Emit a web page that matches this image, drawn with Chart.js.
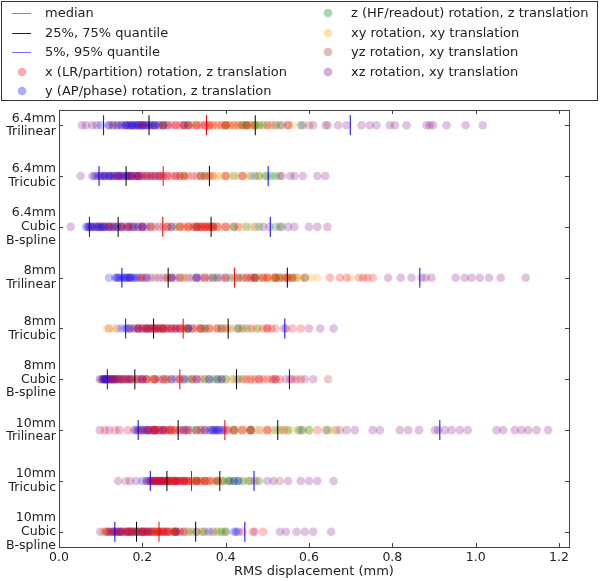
<!DOCTYPE html>
<html>
<head>
<meta charset="utf-8">
<script src="https://cdn.jsdelivr.net/npm/chart.js@4.4.1/dist/chart.umd.min.js"></script>
<style>
  html, body { margin: 0; padding: 0; background: #fff; }
  #wrap { width: 600px; height: 581px; }
</style>
</head>
<body>
<div id="wrap"><canvas id="rmsChart"></canvas></div>
<script>

// ======================================
// DATA
// ======================================

const rowLabels = [
    ["6.4mm", "Trilinear"],
    ["6.4mm", "Tricubic"],
    ["6.4mm", "Cubic", "B-spline"],
    ["8mm", "Trilinear"],
    ["8mm", "Tricubic"],
    ["8mm", "Cubic", "B-spline"],
    ["10mm", "Trilinear"],
    ["10mm", "Tricubic"],
    ["10mm", "Cubic", "B-spline"]
];

const xTicks = [0, 0.2, 0.4, 0.6, 0.8, 1.0, 1.2];

// quantile markers, one value per row
const q05 = [0.107, 0.096, 0.073, 0.151, 0.160, 0.116, 0.190, 0.219, 0.134];
const q25 = [0.216, 0.161, 0.142, 0.262, 0.227, 0.182, 0.286, 0.259, 0.186];
const q50 = [0.354, 0.250, 0.249, 0.421, 0.298, 0.290, 0.398, 0.318, 0.240];
const q75 = [0.471, 0.361, 0.365, 0.548, 0.406, 0.426, 0.525, 0.386, 0.328];
const q95 = [0.699, 0.502, 0.507, 0.866, 0.542, 0.553, 0.914, 0.468, 0.446];

// x (LR/partition) rotation, z translation
const xRot = [
    [0.20, 0.25, 0.26, 0.27, 0.28, 0.29, 0.30, 0.31, 0.32, 0.33, 0.34, 0.35, 0.36, 0.37, 0.38, 0.39, 0.40, 0.41, 0.43, 0.45, 0.46, 0.50, 0.55],
    [0.14, 0.17, 0.18, 0.19, 0.20, 0.21, 0.22, 0.23, 0.24, 0.25, 0.26, 0.27, 0.28, 0.29, 0.30, 0.31, 0.33, 0.35, 0.36, 0.40, 0.44],
    [0.12, 0.15, 0.17, 0.20, 0.22, 0.25, 0.27, 0.29, 0.30, 0.31, 0.32, 0.325, 0.335, 0.34, 0.345, 0.35, 0.355, 0.36, 0.365, 0.37, 0.38, 0.40, 0.43],
    [0.20, 0.26, 0.35, 0.40, 0.43, 0.45, 0.46, 0.47, 0.49, 0.50, 0.52, 0.54, 0.55, 0.56, 0.59, 0.65, 0.674, 0.69, 0.72, 0.73, 0.74, 0.753],
    [0.19, 0.20, 0.21, 0.22, 0.225, 0.235, 0.24, 0.25, 0.26, 0.27, 0.28, 0.29, 0.30, 0.32, 0.34, 0.36, 0.38, 0.40, 0.46, 0.49, 0.50, 0.51, 0.56, 0.58],
    [0.12, 0.13, 0.14, 0.15, 0.16, 0.17, 0.185, 0.20, 0.21, 0.23, 0.25, 0.29, 0.33, 0.45, 0.46, 0.47, 0.48, 0.49, 0.50, 0.515, 0.52, 0.53, 0.56, 0.58],
    [0.11, 0.135, 0.165, 0.215, 0.225, 0.23, 0.235, 0.245, 0.255, 0.265, 0.27, 0.28, 0.29, 0.305, 0.34, 0.405, 0.42, 0.44, 0.46, 0.50, 0.62],
    [0.22, 0.225, 0.23, 0.235, 0.24, 0.245, 0.25, 0.255, 0.26, 0.265, 0.27, 0.275, 0.28, 0.285, 0.29, 0.295, 0.30, 0.305, 0.31, 0.32, 0.33, 0.34, 0.35, 0.36, 0.38],
    [0.11, 0.12, 0.13, 0.14, 0.15, 0.155, 0.165, 0.17, 0.175, 0.185, 0.19, 0.20, 0.205, 0.21, 0.22, 0.225, 0.235, 0.24, 0.245, 0.25, 0.26, 0.265, 0.275, 0.28, 0.29, 0.44, 0.465, 0.49]
];

// y (AP/phase) rotation, z translation
const yRot = [
    [0.10, 0.12, 0.14, 0.15, 0.16, 0.165, 0.17, 0.175, 0.18, 0.185, 0.19, 0.195, 0.20, 0.205, 0.21, 0.215, 0.225, 0.23, 0.24, 0.26, 0.30],
    [0.085, 0.095, 0.105, 0.11, 0.12, 0.125, 0.13, 0.14, 0.145, 0.15, 0.16, 0.165, 0.17, 0.175, 0.185, 0.19, 0.20, 0.22, 0.24],
    [0.065, 0.07, 0.075, 0.08, 0.09, 0.095, 0.10, 0.105, 0.11, 0.12, 0.13, 0.14, 0.15, 0.165, 0.18, 0.19, 0.20, 0.21, 0.27],
    [0.12, 0.135, 0.14, 0.145, 0.15, 0.155, 0.16, 0.165, 0.17, 0.175, 0.18, 0.185, 0.21, 0.27, 0.33, 0.38],
    [0.15, 0.16, 0.17, 0.19, 0.21, 0.23, 0.25, 0.28, 0.31],
    [0.105, 0.108, 0.11, 0.115, 0.12, 0.125, 0.13, 0.135, 0.145, 0.155, 0.17, 0.20, 0.27, 0.30, 0.33, 0.36, 0.39],
    [0.18, 0.20, 0.215, 0.23, 0.25, 0.30, 0.35, 0.365, 0.37, 0.375, 0.38, 0.385, 0.395],
    [0.20, 0.215, 0.225, 0.235, 0.245, 0.26, 0.28, 0.30, 0.42, 0.43],
    [0.125, 0.135, 0.145, 0.15, 0.165, 0.175, 0.185, 0.20, 0.215, 0.28, 0.36, 0.42, 0.425, 0.43]
];

// z (HF/readout) rotation, z translation
const zRot = [
    [0.25, 0.31, 0.40, 0.44, 0.45, 0.47, 0.48, 0.49, 0.53, 0.58],
    [0.30, 0.35, 0.42, 0.46, 0.48, 0.495, 0.51, 0.52],
    [0.28, 0.33, 0.37, 0.42, 0.45, 0.48, 0.52, 0.535],
    [0.37, 0.41, 0.43, 0.47, 0.53, 0.56, 0.59],
    [0.31, 0.35, 0.39, 0.43, 0.45, 0.475],
    [0.31, 0.35, 0.37, 0.38, 0.40, 0.43],
    [0.33, 0.42, 0.46, 0.52, 0.55, 0.575, 0.585, 0.60, 0.645],
    [0.33, 0.38, 0.395, 0.405, 0.41, 0.42, 0.43, 0.44, 0.455, 0.48],
    [0.28, 0.32, 0.345, 0.38, 0.39, 0.40]
];

// xy rotation, xy translation
const xyRot = [
    [0.33, 0.36, 0.37, 0.39, 0.40, 0.41, 0.42, 0.43, 0.44, 0.45, 0.46, 0.47, 0.48, 0.50, 0.52, 0.56],
    [0.24, 0.30, 0.34, 0.36, 0.37, 0.38, 0.39, 0.41, 0.43, 0.45, 0.48],
    [0.22, 0.26, 0.29, 0.31, 0.34, 0.36, 0.39, 0.41, 0.44, 0.46],
    [0.30, 0.38, 0.44, 0.48, 0.50, 0.51, 0.52, 0.53, 0.545, 0.56, 0.57, 0.58, 0.605, 0.62, 0.70],
    [0.115, 0.13, 0.25, 0.30, 0.34, 0.37, 0.40, 0.42, 0.44, 0.465, 0.48],
    [0.15, 0.22, 0.26, 0.32, 0.35, 0.40, 0.415, 0.43, 0.445, 0.46],
    [0.27, 0.41, 0.43, 0.45, 0.47, 0.49, 0.51, 0.53, 0.545, 0.56, 0.60, 0.655],
    [0.27, 0.30, 0.32, 0.335, 0.35, 0.365, 0.39, 0.445, 0.475],
    [0.105, 0.17, 0.23, 0.27, 0.31, 0.34, 0.37, 0.39]
];

// yz rotation, xy translation
const yzRot = [
    [0.13, 0.14, 0.16, 0.17, 0.18, 0.19, 0.20, 0.21, 0.22, 0.23, 0.24, 0.25, 0.28, 0.30, 0.33, 0.36, 0.40, 0.44, 0.47, 0.51, 0.535, 0.55, 0.60, 0.645],
    [0.10, 0.11, 0.12, 0.135, 0.145, 0.15, 0.16, 0.17, 0.18, 0.19, 0.195, 0.21, 0.225, 0.24, 0.26, 0.29, 0.32, 0.34, 0.37, 0.40, 0.44, 0.50, 0.535],
    [0.07, 0.08, 0.09, 0.10, 0.105, 0.115, 0.125, 0.13, 0.14, 0.15, 0.16, 0.17, 0.175, 0.19, 0.20, 0.23, 0.26, 0.29, 0.31, 0.33, 0.34, 0.36, 0.37, 0.38, 0.42, 0.47],
    [0.17, 0.195, 0.21, 0.23, 0.25, 0.26, 0.27, 0.28, 0.29, 0.30, 0.32, 0.33, 0.35, 0.37, 0.39, 0.42, 0.45, 0.46, 0.47, 0.48, 0.49, 0.50, 0.515, 0.52, 0.53, 0.545, 0.55, 0.57],
    [0.12, 0.14, 0.17, 0.18, 0.19, 0.20, 0.21, 0.215, 0.22, 0.23, 0.24, 0.245, 0.25, 0.26, 0.27, 0.28, 0.29, 0.30, 0.31, 0.32, 0.33, 0.34, 0.35, 0.36, 0.38, 0.39, 0.41, 0.44, 0.50, 0.52],
    [0.10, 0.11, 0.115, 0.125, 0.135, 0.14, 0.15, 0.16, 0.165, 0.175, 0.185, 0.195, 0.20, 0.21, 0.225, 0.23, 0.24, 0.255, 0.26, 0.27, 0.29, 0.30, 0.32, 0.34, 0.36, 0.39, 0.42, 0.48, 0.51, 0.646],
    [0.19, 0.20, 0.21, 0.22, 0.23, 0.24, 0.25, 0.265, 0.28, 0.30, 0.31, 0.32, 0.34, 0.35, 0.37, 0.39, 0.42, 0.44, 0.46, 0.48, 0.50, 0.53, 0.54, 0.58, 0.64, 0.665, 0.674],
    [0.16, 0.21, 0.22, 0.225, 0.23, 0.235, 0.24, 0.245, 0.25, 0.255, 0.26, 0.265, 0.27, 0.275, 0.28, 0.29, 0.30, 0.31, 0.32, 0.33, 0.34, 0.35, 0.36, 0.37, 0.38, 0.39, 0.41, 0.46, 0.53],
    [0.115, 0.12, 0.13, 0.14, 0.15, 0.16, 0.165, 0.17, 0.18, 0.19, 0.195, 0.20, 0.205, 0.21, 0.215, 0.225, 0.23, 0.235, 0.24, 0.25, 0.255, 0.26, 0.27, 0.28, 0.29, 0.30, 0.31, 0.33, 0.35, 0.37, 0.40]
];

// xz rotation, xy translation
const xzRot = [
    [0.055, 0.065, 0.08, 0.09, 0.12, 0.13, 0.15, 0.16, 0.175, 0.19, 0.20, 0.22, 0.23, 0.25, 0.31, 0.35, 0.42, 0.45, 0.52, 0.585, 0.61, 0.64, 0.67, 0.69, 0.726, 0.746, 0.762, 0.794, 0.806, 0.834, 0.882, 0.89, 0.898, 0.93, 0.976, 1.017],
    [0.052, 0.08, 0.09, 0.10, 0.11, 0.12, 0.13, 0.14, 0.155, 0.165, 0.175, 0.19, 0.21, 0.23, 0.25, 0.28, 0.34, 0.47, 0.53, 0.555, 0.565, 0.585, 0.62, 0.639],
    [0.028, 0.075, 0.085, 0.095, 0.11, 0.12, 0.135, 0.15, 0.165, 0.18, 0.20, 0.22, 0.24, 0.26, 0.33, 0.35, 0.40, 0.49, 0.505, 0.53, 0.55, 0.565, 0.60, 0.62, 0.644],
    [0.14, 0.16, 0.17, 0.19, 0.20, 0.22, 0.24, 0.27, 0.29, 0.31, 0.33, 0.34, 0.36, 0.40, 0.44, 0.47, 0.52, 0.79, 0.82, 0.846, 0.87, 0.88, 0.894, 0.952, 0.974, 0.99, 1.01, 1.032, 1.06, 1.12],
    [0.165, 0.18, 0.19, 0.20, 0.21, 0.22, 0.23, 0.24, 0.25, 0.26, 0.27, 0.29, 0.31, 0.34, 0.43, 0.54, 0.545, 0.60, 0.627, 0.659],
    [0.098, 0.105, 0.11, 0.115, 0.125, 0.13, 0.14, 0.15, 0.165, 0.175, 0.19, 0.21, 0.23, 0.25, 0.28, 0.32, 0.38, 0.44, 0.52, 0.545, 0.555, 0.57, 0.59, 0.61],
    [0.098, 0.12, 0.145, 0.185, 0.19, 0.195, 0.205, 0.21, 0.215, 0.225, 0.23, 0.24, 0.25, 0.26, 0.27, 0.29, 0.31, 0.33, 0.36, 0.38, 0.40, 0.46, 0.69, 0.71, 0.753, 0.77, 0.818, 0.838, 0.864, 0.902, 0.91, 0.926, 0.942, 0.962, 0.981, 1.05, 1.066, 1.094, 1.11, 1.126, 1.146, 1.174],
    [0.142, 0.17, 0.185, 0.21, 0.22, 0.23, 0.24, 0.25, 0.26, 0.27, 0.28, 0.29, 0.31, 0.33, 0.35, 0.47, 0.50, 0.515, 0.55, 0.58, 0.60, 0.62, 0.659],
    [0.099, 0.115, 0.13, 0.14, 0.145, 0.16, 0.17, 0.18, 0.19, 0.20, 0.21, 0.22, 0.23, 0.24, 0.25, 0.26, 0.28, 0.30, 0.33, 0.47, 0.53, 0.545, 0.57, 0.59, 0.61, 0.653]
];


// ======================================
// HELPERS
// ======================================

const toMarks = (vals) => vals.map((v, i) => ({ x: v, y: i }));
const toRowPoints = (rows) => rows.flatMap((vals, i) => vals.map(v => ({ x: v, y: i })));

const markerSet = (label, marks, color, legendColor) => ({
    label: label,
    data: marks,
    pointStyle: "line",
    rotation: 90,
    radius: 10,
    borderColor: color,
    backgroundColor: color,
    borderWidth: 1,
    legendColor: legendColor,
    isLine: true
});

const dotSet = (label, rows, rgb) => ({
    label: label,
    data: toRowPoints(rows),
    pointStyle: "circle",
    radius: 4.3,
    borderWidth: 0,
    backgroundColor: "rgba(" + rgb + ",0.24)",
    legendColor: "rgba(" + rgb + ",0.33)"
});


// ======================================
// FRAME, TICKS AND LEGEND
// ======================================

const framePlugin = {

    id: "frame",

    afterDraw(chart) {

        const ctx = chart.ctx;
        const a = chart.chartArea;
        const sx = chart.scales.x;
        const sy = chart.scales.y;

        ctx.save();
        ctx.strokeStyle = "#444";
        ctx.lineWidth = 1;
        ctx.strokeRect(Math.round(a.left) + 0.5, Math.round(a.top) + 0.5,
            Math.round(a.width), Math.round(a.height));

        // inward ticks on all four sides
        ctx.beginPath();
        sx.ticks.forEach(t => {
            const px = Math.round(sx.getPixelForValue(t.value)) + 0.5;
            ctx.moveTo(px, a.bottom); ctx.lineTo(px, a.bottom - 4);
            ctx.moveTo(px, a.top); ctx.lineTo(px, a.top + 4);
        });
        sy.ticks.forEach(t => {
            const py = Math.round(sy.getPixelForValue(t.value)) + 0.5;
            ctx.moveTo(a.left, py); ctx.lineTo(a.left + 4, py);
            ctx.moveTo(a.right, py); ctx.lineTo(a.right - 4, py);
        });
        ctx.stroke();

        // legend box, two columns
        ctx.strokeStyle = "#333";
        ctx.strokeRect(1.5, 1.5, 596, 99);

        const colX = [22, 328];
        const rowY = [13, 33, 52, 72, 91];

        ctx.font = "13px 'DejaVu Sans'";
        ctx.textBaseline = "middle";

        chart.data.datasets.forEach((ds, i) => {

            const col = i < 5 ? 0 : 1;
            const cx = colX[col];
            const cy = rowY[col === 0 ? i : i - 5];

            if (ds.isLine) {
                ctx.strokeStyle = ds.legendColor;
                ctx.lineWidth = 1;
                ctx.beginPath();
                ctx.moveTo(cx - 10, cy + 0.5);
                ctx.lineTo(cx + 9, cy + 0.5);
                ctx.stroke();
            } else {
                ctx.fillStyle = ds.legendColor;
                ctx.beginPath();
                ctx.arc(cx, cy, 4.3, 0, Math.PI * 2);
                ctx.fill();
            }

            ctx.fillStyle = "#222";
            ctx.fillText(ds.label, cx + 23, cy + 1);

        });

        ctx.restore();

    }

};


// ======================================
// CHART
// ======================================

const canvas = document.getElementById("rmsChart");

new Chart(canvas, {

    type: "scatter",

    data: {

        datasets: [

            markerSet("median", toMarks(q50), "#ff0000", "#f06060"),
            markerSet("25%, 75% quantile", toMarks(q25).concat(toMarks(q75)), "#000000", "#222222"),
            markerSet("5%, 95% quantile", toMarks(q05).concat(toMarks(q95)), "#0000ff", "#7070f0"),

            dotSet("x (LR/partition) rotation, z translation", xRot, "255,0,0"),
            dotSet("y (AP/phase) rotation, z translation", yRot, "0,0,255"),
            dotSet("z (HF/readout) rotation, z translation", zRot, "0,128,0"),
            dotSet("xy rotation, xy translation", xyRot, "255,165,0"),
            dotSet("yz rotation, xy translation", yzRot, "165,42,42"),
            dotSet("xz rotation, xy translation", xzRot, "128,0,128")

        ]

    },

    options: {

        responsive: true,
        maintainAspectRatio: false,
        animation: false,

        layout: {
            padding: { top: 110, right: 31, left: 0, bottom: 0 }
        },

        plugins: {
            legend: { display: false },
            tooltip: { enabled: false }
        },

        scales: {

            x: {
                type: "linear",
                min: 0,
                max: 1.224,
                grid: { display: false, drawTicks: false },
                border: { display: false },
                afterBuildTicks: (scale) => { scale.ticks = xTicks.map(v => ({ value: v })); },
                afterFit: (scale) => { scale.height = 34; },
                ticks: {
                    padding: 3,
                    color: "#222",
                    font: { family: "'DejaVu Sans'", size: 12.5 },
                    callback: (v) => Number(v).toFixed(1)
                },
                title: {
                    display: true,
                    text: "RMS displacement (mm)",
                    color: "#222",
                    padding: { top: 0, bottom: 2 },
                    font: { family: "'DejaVu Sans'", size: 13 }
                }
            },

            y: {
                type: "linear",
                min: -0.3,
                max: 8.3,
                reverse: true,
                grid: { display: false, drawTicks: false },
                border: { display: false },
                afterBuildTicks: (scale) => { scale.ticks = rowLabels.map((_, i) => ({ value: i })); },
                afterFit: (scale) => { scale.width = 59; },
                ticks: {
                    padding: 3,
                    color: "#222",
                    font: { family: "'DejaVu Sans'", size: 12.5, lineHeight: 1.1 },
                    callback: (v) => rowLabels[v]
                }
            }

        }

    },

    plugins: [framePlugin]

});

</script>
</body>
</html>
